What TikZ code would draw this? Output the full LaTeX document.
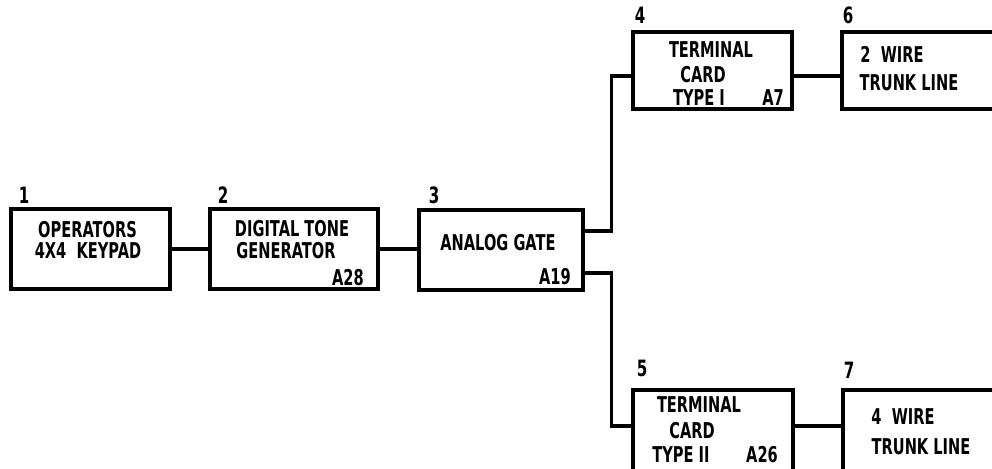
\documentclass[tikz,border=0pt]{standalone}
\usepackage{fontspec}
\setmainfont{DejaVu Sans}[FakeStretch=0.67]
\tikzset{
  blk/.style={draw, line width=2.3pt, inner sep=0pt},
  txt/.style={font=\fontsize{15.5}{17}\selectfont\bfseries, inner sep=0pt},
  num/.style={font=\fontsize{16}{17}\selectfont\bfseries, inner sep=0pt},
  wire/.style={line width=2.3pt}
}
\begin{document}
\begin{tikzpicture}[x=0.025cm, y=-0.025cm]
  \clip (0,0) rectangle (992,468);
  % main chain
  \node[blk, minimum width=3.975cm, minimum height=2cm] (keypad) at (90.5,249) {};
  \node[blk, minimum width=4.2cm, minimum height=2cm] (tonegen) at (294,249) {};
  \node[blk, minimum width=4.1cm, minimum height=2cm] (gate) at (501,250) {};
  \node[num] (n1) at (24,195) {1};
  \node[num] (n2) at (223,195) {2};
  \node[num] (n3) at (434,195) {3};
  \node[txt] (kpa) at (87.5,230) {OPERATORS};
  \node[txt] (kpb) at (88,251) {4X4\ \ KEYPAD};
  \node[txt] (tga) at (292,229) {DIGITAL TONE};
  \node[txt] (tgb) at (286,251) {GENERATOR};
  \node[txt] (tgc) at (348,278) {A28};
  \node[txt] (gta) at (498,243) {ANALOG GATE};
  \node[txt] (gtb) at (555,277) {A19};
  % upper branch
  \node[blk, minimum width=3.975cm, minimum height=1.925cm] (cardone) at (712.5,70.5) {};
  \node[blk, minimum width=4.2cm, minimum height=1.925cm] (trunktwo) at (926,70.5) {};
  \node[num] (n4) at (640,15) {4};
  \node[num] (n6) at (848,15) {6};
  \node[txt] (coa) at (711,50) {TERMINAL};
  \node[txt] (cob) at (703,75) {CARD};
  \node[txt] (coc) at (699,98) {TYPE I};
  \node[txt] (cod) at (773,98) {A7};
  \node[txt] (twa) at (892,54) {2\ \ WIRE};
  \node[txt] (twb) at (909,83) {TRUNK LINE};
  % lower branch
  \node[blk, minimum width=4cm, minimum height=2.125cm] (cardtwo) at (713,432.5) {};
  \node[blk, minimum width=4.2cm, minimum height=2.125cm] (trunkfour) at (927,432.5) {};
  \node[num] (n5) at (642,368) {5};
  \node[num] (n7) at (849,370) {7};
  \node[txt] (cta) at (699,405) {TERMINAL};
  \node[txt] (ctb) at (692,431) {CARD};
  \node[txt] (ctc) at (681,455) {TYPE II};
  \node[txt] (ctd) at (762,455) {A26};
  \node[txt] (tfa) at (903,417) {4\ \ WIRE};
  \node[txt] (tfb) at (921,447) {TRUNK LINE};
  % connections
  \draw[wire] (keypad) -- (tonegen);
  \draw[wire] (tonegen.east) -- (tonegen.east -| gate.west);
  \draw[wire] ([yshift=0.475cm]gate.east) -- ++(27,0) |- ([yshift=-0.14cm]cardone.west);
  \draw[wire] ([yshift=-0.575cm]gate.east) -- ++(27,0) |- ([yshift=0.16cm]cardtwo.west);
  \draw[wire] ([yshift=-0.14cm]cardone.east) -- ([yshift=-0.14cm]trunktwo.west);
  \draw[wire] ([yshift=0.16cm]cardtwo.east) -- ([yshift=0.16cm]trunkfour.west);
\end{tikzpicture}
\end{document}
